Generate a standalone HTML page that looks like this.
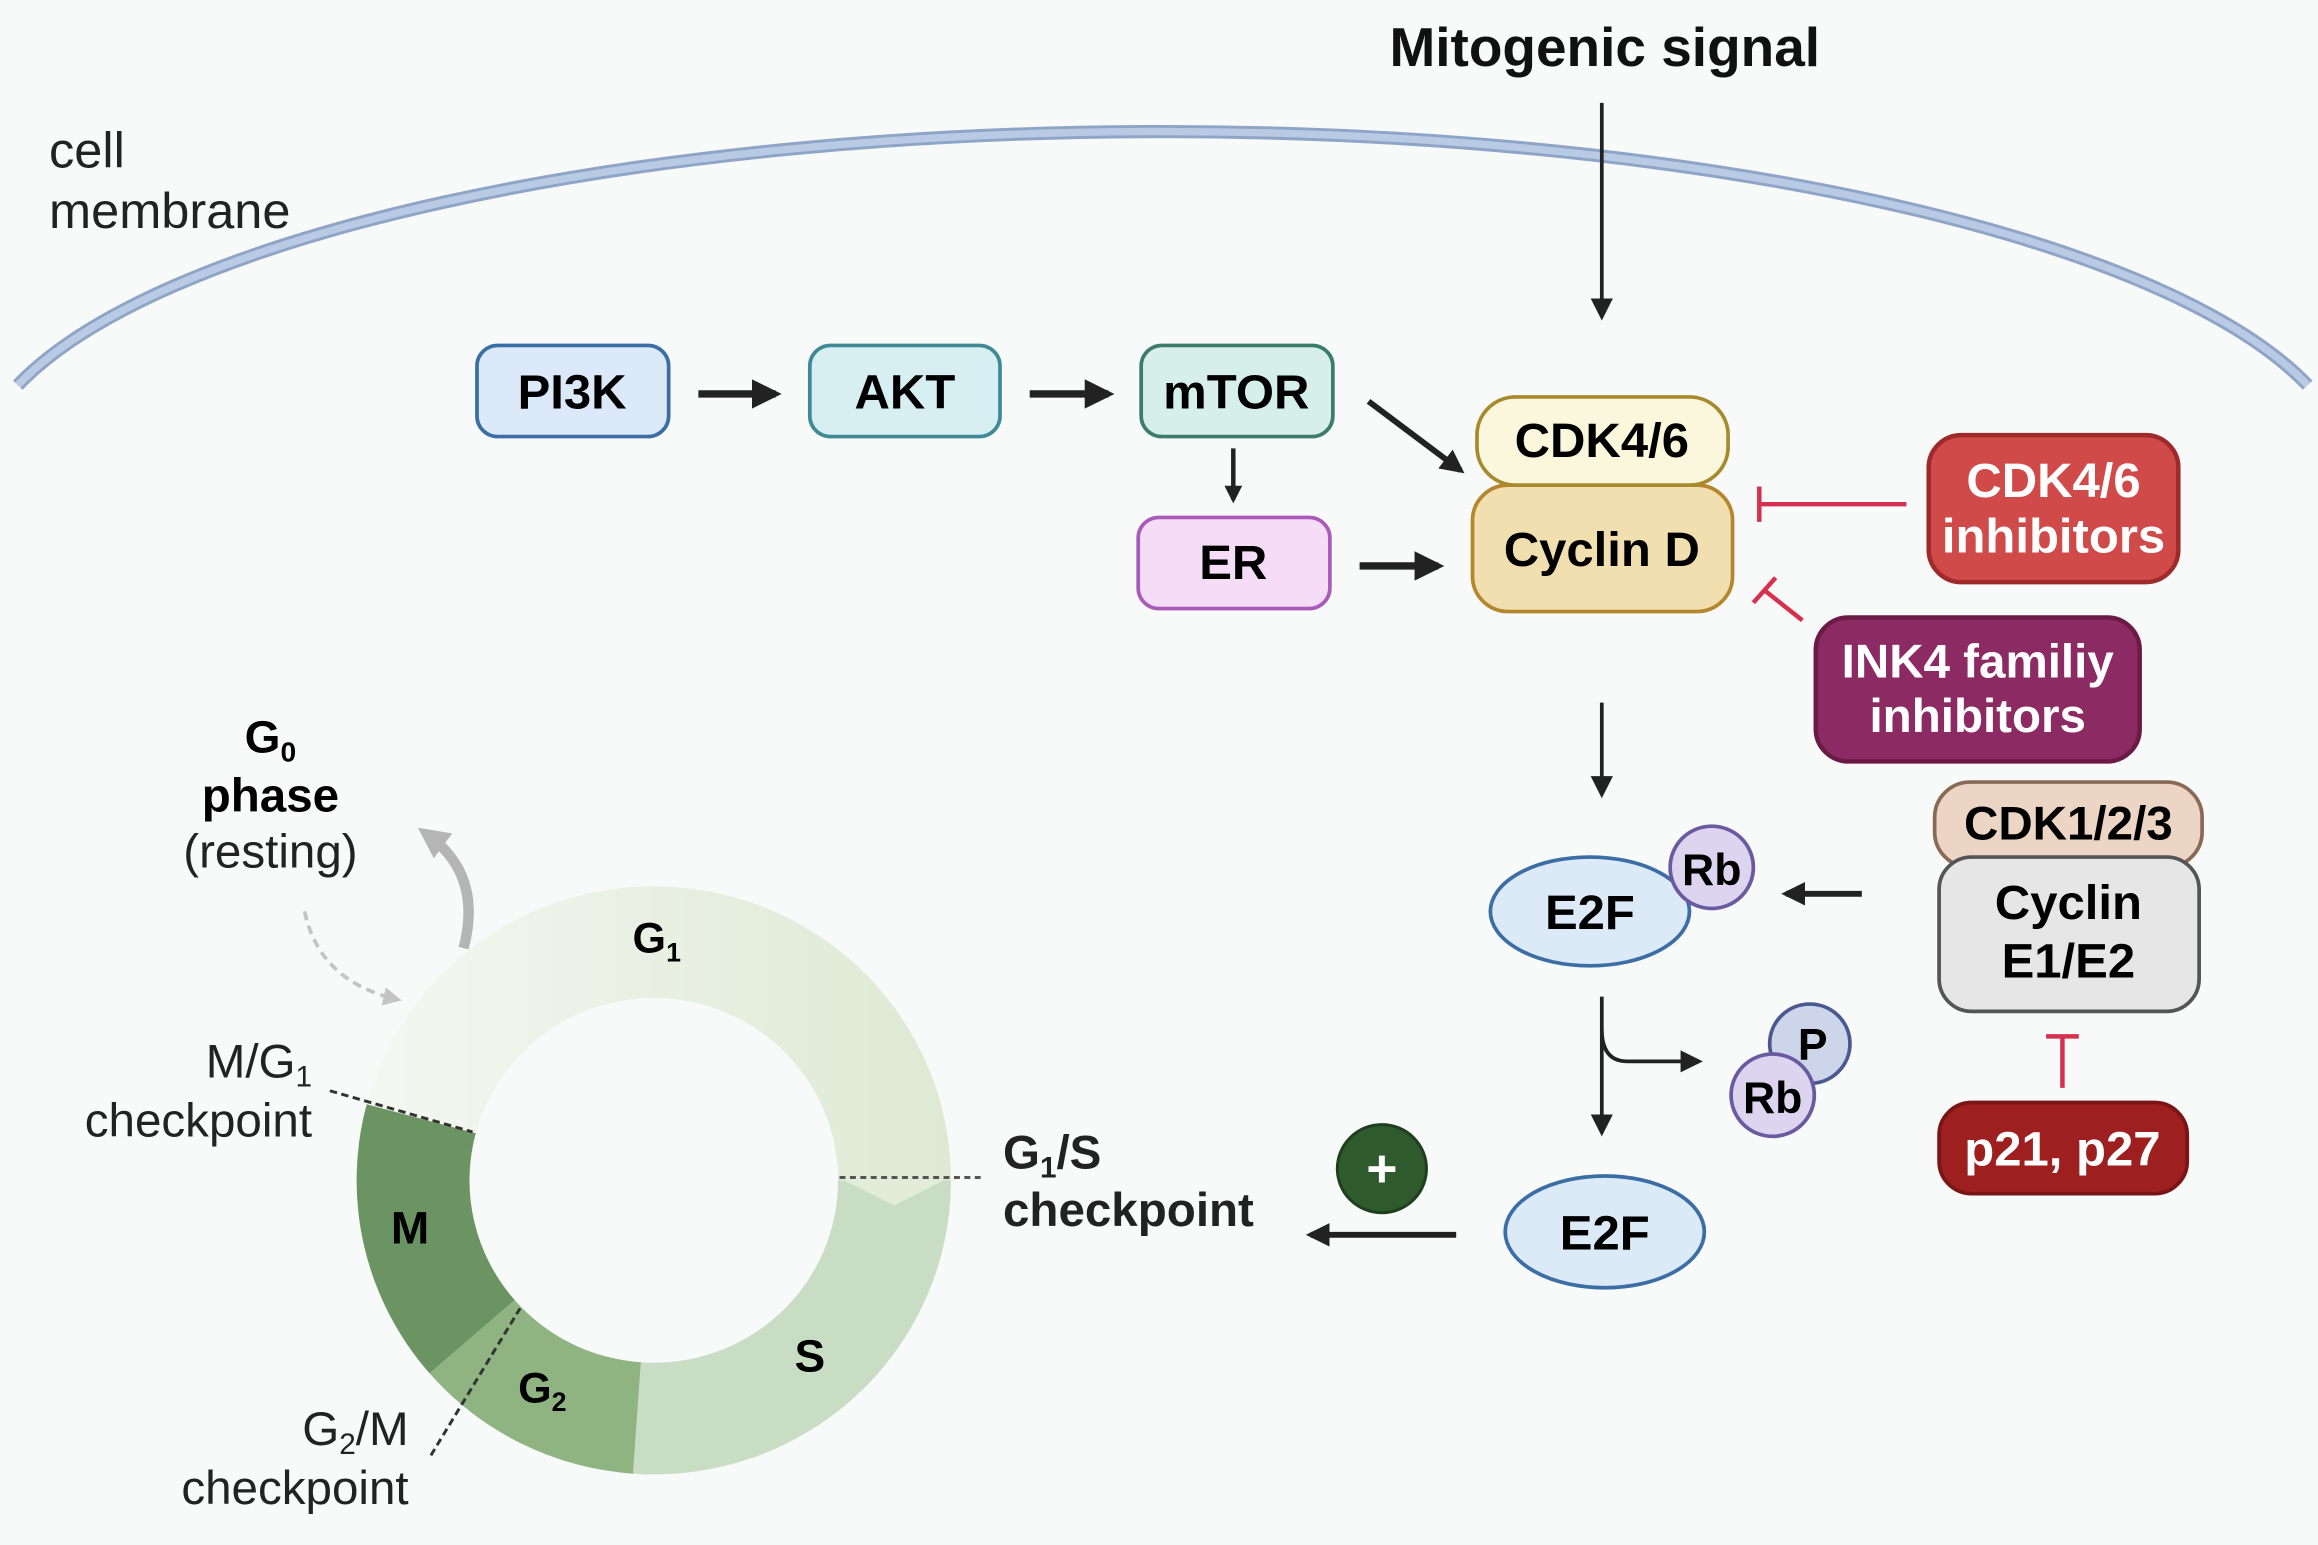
<!DOCTYPE html>
<html><head><meta charset="utf-8"><style>
html,body{margin:0;padding:0;background:#f8f9f9;}
svg{display:block;}
text{font-family:"Liberation Sans",Arial,sans-serif;}
.b{font-weight:bold;}
</style></head><body>
<svg width="2318" height="1545" viewBox="0 0 1560 1051" preserveAspectRatio="none" xmlns="http://www.w3.org/2000/svg">
<defs>
<marker id="ah" viewBox="0 0 10 10" refX="8" refY="5" markerWidth="4" markerHeight="4" orient="auto"><path d="M0,0 L10,5 L0,10 Z" fill="#222"/></marker>
<marker id="ahs" viewBox="0 0 10 10" refX="8" refY="5" markerWidth="6" markerHeight="6" orient="auto"><path d="M0,0 L10,5 L0,10 Z" fill="#222"/></marker>
<marker id="ahg" viewBox="0 0 10 10" refX="6" refY="5" markerWidth="3" markerHeight="3" orient="auto"><path d="M0,0 L10,5 L0,10 Z" fill="#b5b5b5"/></marker>
<marker id="ahd" viewBox="0 0 10 10" refX="8" refY="5" markerWidth="5" markerHeight="5" orient="auto"><path d="M0,0 L10,5 L0,10 Z" fill="#c4c4c4"/></marker>
<linearGradient id="g1" x1="0" y1="0" x2="1" y2="0"><stop offset="0" stop-color="#f5f7f2"/><stop offset="1" stop-color="#dde9d3"/></linearGradient>
</defs>
<rect width="1560" height="1051" fill="#f8f9f9"/>
<!-- membrane -->
<path d="M12,262 A800,236 0 0 1 1553,262" fill="none" stroke="#8ea5c8" stroke-width="9"/>
<path d="M12,262 A800,236 0 0 1 1553,262" fill="none" stroke="#b9cbe4" stroke-width="5"/>
<text x="33" y="114" font-size="34" fill="#222">cell</text>
<text x="33" y="155" font-size="34" fill="#222">membrane</text>
<text x="1080" y="45" font-size="37" class="b" text-anchor="middle" fill="#111">Mitogenic signal</text>
<line x1="1078" y1="70" x2="1078" y2="215" stroke="#222" stroke-width="2.5" marker-end="url(#ahs)"/>

<!-- pathway boxes -->
<rect x="321" y="235" width="129" height="62" rx="14" fill="#dbe9f8" stroke="#3a6ea5" stroke-width="2.5"/>
<text x="385" y="278" font-size="33" class="b" text-anchor="middle">PI3K</text>
<rect x="545" y="235" width="128" height="62" rx="14" fill="#d7eef2" stroke="#3f8a95" stroke-width="2.5"/>
<text x="609" y="278" font-size="33" class="b" text-anchor="middle">AKT</text>
<rect x="768" y="235" width="129" height="62" rx="14" fill="#d6efe9" stroke="#3c7c6a" stroke-width="2.5"/>
<text x="832" y="278" font-size="33" class="b" text-anchor="middle">mTOR</text>
<line x1="470" y1="268" x2="522" y2="268" stroke="#222" stroke-width="5" marker-end="url(#ah)"/>
<line x1="693" y1="268" x2="746" y2="268" stroke="#222" stroke-width="5" marker-end="url(#ah)"/>
<line x1="830" y1="305" x2="830" y2="340" stroke="#222" stroke-width="3" marker-end="url(#ah)"/>
<rect x="766" y="352" width="129" height="62" rx="14" fill="#f5dcf7" stroke="#a85bb8" stroke-width="2.5"/>
<text x="830" y="394" font-size="33" class="b" text-anchor="middle">ER</text>
<line x1="915" y1="385" x2="968" y2="385" stroke="#222" stroke-width="5" marker-end="url(#ah)"/>
<line x1="921" y1="273" x2="983" y2="320" stroke="#222" stroke-width="4" marker-end="url(#ah)"/>

<rect x="991" y="330" width="175" height="86" rx="24" fill="#f2dfb0" stroke="#b5862e" stroke-width="2.5"/>
<rect x="994" y="270" width="169" height="60" rx="26" fill="#fbf7dd" stroke="#a88a2e" stroke-width="2.5"/>
<text x="1078" y="311" font-size="33" class="b" text-anchor="middle">CDK4/6</text>
<text x="1078" y="385" font-size="33" class="b" text-anchor="middle">Cyclin D</text>

<rect x="1298" y="296" width="168" height="100" rx="22" fill="#d04a4a" stroke="#9e2a2a" stroke-width="3"/>
<text x="1382" y="338" font-size="33" class="b" text-anchor="middle" fill="#fff">CDK4/6</text>
<text x="1382" y="376" font-size="33" class="b" text-anchor="middle" fill="#fff">inhibitors</text>
<line x1="1184" y1="343" x2="1283" y2="343" stroke="#d6304e" stroke-width="3"/>
<line x1="1184" y1="331" x2="1184" y2="355" stroke="#d6304e" stroke-width="3"/>
<rect x="1222" y="420" width="218" height="98" rx="22" fill="#8c2b63" stroke="#6a1a45" stroke-width="3"/>
<text x="1331" y="461" font-size="32" class="b" text-anchor="middle" fill="#fff">INK4 familiy</text>
<text x="1331" y="498" font-size="32" class="b" text-anchor="middle" fill="#fff">inhibitors</text>
<line x1="1213" y1="422" x2="1188" y2="402" stroke="#d6304e" stroke-width="3"/>
<line x1="1180" y1="410" x2="1195" y2="393" stroke="#d6304e" stroke-width="3"/>

<line x1="1078" y1="478" x2="1078" y2="540" stroke="#222" stroke-width="2.5" marker-end="url(#ahs)"/>
<ellipse cx="1070" cy="620" rx="67" ry="37" fill="#dce9f7" stroke="#3b6ea5" stroke-width="2.5"/>
<text x="1070" y="632" font-size="33" class="b" text-anchor="middle">E2F</text>
<circle cx="1152" cy="590" r="28" fill="#ddd5f0" stroke="#6a5aa0" stroke-width="2.5"/>
<text x="1152" y="602" font-size="30" class="b" text-anchor="middle">Rb</text>
<line x1="1253" y1="608" x2="1202" y2="608" stroke="#222" stroke-width="4" marker-end="url(#ah)"/>

<rect x="1302" y="532" width="180" height="58" rx="24" fill="#ecd5c4" stroke="#8a6a55" stroke-width="2.5"/>
<rect x="1305" y="583" width="175" height="105" rx="22" fill="#e6e6e6" stroke="#555" stroke-width="2.5"/>
<text x="1392" y="571" font-size="32" class="b" text-anchor="middle">CDK1/2/3</text>
<text x="1392" y="625" font-size="33" class="b" text-anchor="middle">Cyclin</text>
<text x="1392" y="665" font-size="33" class="b" text-anchor="middle">E1/E2</text>
<line x1="1388" y1="740" x2="1388" y2="705" stroke="#d6304e" stroke-width="3"/>
<line x1="1377" y1="705" x2="1399" y2="705" stroke="#d6304e" stroke-width="3"/>
<rect x="1305" y="750" width="167" height="62" rx="22" fill="#9e1f1f" stroke="#7a1515" stroke-width="2.5"/>
<text x="1388" y="793" font-size="33" class="b" text-anchor="middle" fill="#fff">p21, p27</text>

<line x1="1078" y1="678" x2="1078" y2="770" stroke="#222" stroke-width="2.5" marker-end="url(#ahs)"/>
<path d="M1078,700 Q1078,722 1095,722 L1143,722" fill="none" stroke="#222" stroke-width="2.5" marker-end="url(#ahs)"/>
<circle cx="1218" cy="710" r="27" fill="#cdd5ea" stroke="#4a5a90" stroke-width="2.5"/>
<text x="1220" y="721" font-size="30" class="b" text-anchor="middle">P</text>
<circle cx="1193" cy="745" r="28" fill="#ddd5f0" stroke="#6a5aa0" stroke-width="2.5"/>
<text x="1193" y="757" font-size="30" class="b" text-anchor="middle">Rb</text>

<ellipse cx="1080" cy="838" rx="67" ry="38" fill="#dce9f7" stroke="#3b6ea5" stroke-width="2.5"/>
<text x="1080" y="850" font-size="33" class="b" text-anchor="middle">E2F</text>
<line x1="980" y1="840" x2="882" y2="840" stroke="#222" stroke-width="4" marker-end="url(#ah)"/>
<circle cx="930" cy="795" r="30" fill="#2e5a2e" stroke="#1e3e1e" stroke-width="2"/>
<text x="930" y="807" font-size="36" class="b" text-anchor="middle" fill="#fff">+</text>
<text x="675" y="795" font-size="32" class="b" fill="#222">G<tspan font-size="20" dy="6">1</tspan><tspan dy="-6">/S</tspan></text>
<text x="675" y="834" font-size="32" class="b" fill="#222">checkpoint</text>

<!-- cell cycle ring -->
<path d="M246.8,751.2 A200,200 0 0 1 640,803 L564,803 A124,124 0 0 0 320.2,770.9 Z" fill="url(#g1)"/>
<path d="M640,803 A200,200 0 0 1 426,1002.5 L431.3,926.7 A124,124 0 0 0 564,803 Z" fill="#c9ddc5"/>
<path d="M426,1002.5 A200,200 0 0 1 289.1,934.2 L346.4,884.4 A124,124 0 0 0 431.3,926.7 Z" fill="#8fb482"/>
<path d="M289.1,934.2 A200,200 0 0 1 246.8,751.2 L320.2,770.9 A124,124 0 0 0 346.4,884.4 Z" fill="#6c9462"/>
<path d="M568,803 L635,803 L602,820 Z" fill="#e2ecd9"/>
<text x="442" y="648" font-size="29" class="b" text-anchor="middle">G<tspan font-size="18" dy="6">1</tspan></text>
<text x="545" y="933" font-size="31" class="b" text-anchor="middle">S</text>
<text x="365" y="954" font-size="29" class="b" text-anchor="middle">G<tspan font-size="18" dy="6">2</tspan></text>
<text x="276" y="846" font-size="31" class="b" text-anchor="middle">M</text>
<line x1="565" y1="801" x2="660" y2="801" stroke="#555" stroke-width="2" stroke-dasharray="4,3"/>
<line x1="222" y1="742" x2="318" y2="770" stroke="#333" stroke-width="2" stroke-dasharray="5,3"/>
<line x1="290" y1="990" x2="350" y2="890" stroke="#333" stroke-width="2" stroke-dasharray="5,3"/>
<text x="210" y="733" font-size="32" text-anchor="end" fill="#222">M/G<tspan font-size="20" dy="6">1</tspan></text>
<text x="210" y="773" font-size="32" text-anchor="end" fill="#222">checkpoint</text>
<text x="275" y="983" font-size="32" text-anchor="end" fill="#222">G<tspan font-size="20" dy="6">2</tspan><tspan dy="-6">/M</tspan></text>
<text x="275" y="1023" font-size="32" text-anchor="end" fill="#222">checkpoint</text>

<!-- G0 -->
<text x="182" y="512" font-size="31" class="b" text-anchor="middle">G<tspan font-size="19" dy="6">0</tspan></text>
<text x="182" y="552" font-size="32" class="b" text-anchor="middle">phase</text>
<text x="182" y="590" font-size="32" text-anchor="middle" fill="#222">(resting)</text>
<path d="M312,645 Q325,595 288,568" fill="none" stroke="#b5b5b5" stroke-width="7" marker-end="url(#ahg)"/>
<path d="M205,620 Q215,668 268,680" fill="none" stroke="#c4c4c4" stroke-width="2.5" stroke-dasharray="6,4" marker-end="url(#ahd)"/>
</svg>
</body></html>
